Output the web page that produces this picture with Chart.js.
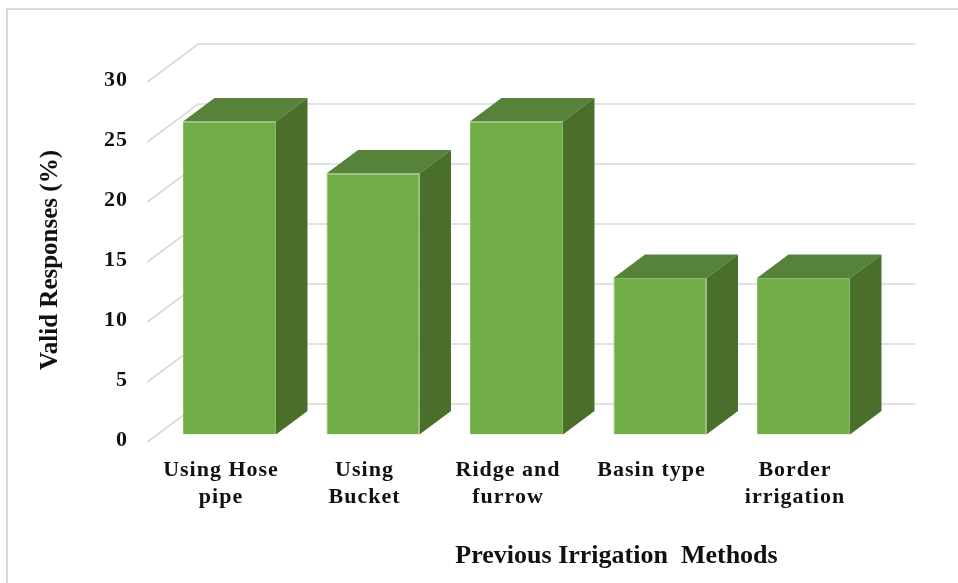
<!DOCTYPE html>
<html>
<head>
<meta charset="utf-8">
<script src="https://cdn.jsdelivr.net/npm/chart.js@4.4.1/dist/chart.umd.min.js"></script>
<style>
  html, body { margin: 0; padding: 0; background: #ffffff; }
  #wrap { width: 958px; height: 583px; position: relative; }
</style>
</head>
<body>
<div id="wrap"><canvas id="c" width="958" height="583"></canvas></div>
<script>
// ---- data ----
const categories = [
  ['Using Hose', 'pipe'],
  ['Using', 'Bucket'],
  ['Ridge and', 'furrow'],
  ['Basin type'],
  ['Border', 'irrigation']
];
const responses = [26.09, 21.74, 26.09, 13.04, 13.04];
const yMin = 0;
const yMax = 30;
const yStep = 5;
const xTitle = 'Previous Irrigation  Methods';
const yTitle = 'Valid Responses (%)';

// ---- look ----
const FONT = "'Liberation Serif', 'Times New Roman', serif";
const FRONT = '#70AD47';
const TOP = '#56823A';
const SIDE = '#4A6F2B';
const GRID = '#D9D9D9';

// 3D offsets relative to the bar-front plane (chart area)
const FRONT_DX = -10.5, FRONT_DY = 7.5;   // front (label) plane
const BACK_DX = 40.5, BACK_DY = -30.5;    // back wall
const BAR_DX = 31.5, BAR_DY = -23.5;      // bar depth

const depth3d = {
  id: 'depth3d',
  beforeDraw(chart) {
    const ctx = chart.ctx;
    ctx.save();
    ctx.strokeStyle = GRID;
    ctx.lineWidth = 2;
    ctx.strokeRect(7, 9, 1000, 1000);
    ctx.restore();
    if ('letterSpacing' in ctx) ctx.letterSpacing = '1px';
  },
  beforeDatasetsDraw(chart) {
    const { ctx, chartArea, scales } = chart;
    const ys = scales.y;
    ctx.save();
    ctx.strokeStyle = GRID;
    ctx.lineWidth = 1.6;
    for (let v = yMin; v <= yMax; v += yStep) {
      const py = ys.getPixelForValue(v);
      ctx.beginPath();
      ctx.moveTo(chartArea.left + FRONT_DX, py + FRONT_DY);
      ctx.lineTo(chartArea.left + BACK_DX, py + BACK_DY);
      ctx.lineTo(chartArea.right + BACK_DX, py + BACK_DY);
      ctx.stroke();
    }
    const meta = chart.getDatasetMeta(0);
    meta.data.forEach((bar) => {
      const p = bar.getProps(['x', 'y', 'base', 'width'], true);
      const l = p.x - p.width / 2, r = p.x + p.width / 2;
      const t = p.y, b = p.base;
      // top face
      ctx.fillStyle = TOP;
      ctx.beginPath();
      ctx.moveTo(l, t);
      ctx.lineTo(l + BAR_DX, t + BAR_DY);
      ctx.lineTo(r + BAR_DX, t + BAR_DY);
      ctx.lineTo(r, t);
      ctx.closePath();
      ctx.fill();
      // side face
      ctx.fillStyle = SIDE;
      ctx.beginPath();
      ctx.moveTo(r, t);
      ctx.lineTo(r + BAR_DX, t + BAR_DY);
      ctx.lineTo(r + BAR_DX, b + BAR_DY);
      ctx.lineTo(r, b);
      ctx.closePath();
      ctx.fill();
    });
    ctx.restore();
  },
  afterDraw(chart) {
    const ctx = chart.ctx;
    if ('letterSpacing' in ctx) ctx.letterSpacing = '0px';
    ctx.save();
    ctx.fillStyle = '#111111';
    ctx.font = 'bold 26px ' + FONT;
    ctx.textAlign = 'center';
    ctx.textBaseline = 'alphabetic';
    ctx.fillText(xTitle, 616.5, 563);
    ctx.translate(51, 260);
    ctx.rotate(-Math.PI / 2);
    ctx.font = 'bold 25px ' + FONT;
    ctx.textBaseline = 'middle';
    ctx.fillText(yTitle, 0, 0);
    ctx.restore();
  }
};

new Chart(document.getElementById('c'), {
  type: 'bar',
  data: {
    labels: categories,
    datasets: [{
      data: responses,
      backgroundColor: FRONT,
      borderColor: '#86BE62',
      borderWidth: 1,
      categoryPercentage: 1.0,
      barPercentage: 0.648
    }]
  },
  options: {
    responsive: false,
    devicePixelRatio: 1,
    animation: false,
    layout: { padding: { left: 0, top: 74.5, right: 82.75, bottom: 0 } },
    plugins: { legend: { display: false }, tooltip: { enabled: false }, title: { display: false } },
    scales: {
      x: {
        grid: { display: false, drawTicks: false },
        border: { display: false },
        ticks: {
          color: '#111111',
          font: { family: FONT, size: 22, weight: 'bold', lineHeight: 1.23 },
          padding: 22.5,
          labelOffset: -8.5,
          maxRotation: 0,
          minRotation: 0,
          autoSkip: false
        },
        afterFit(scale) { scale.height = 148.5; }
      },
      y: {
        min: yMin,
        max: yMax,
        grid: { display: false, drawTicks: false },
        border: { display: false },
        ticks: {
          stepSize: yStep,
          color: '#111111',
          font: { family: FONT, size: 22, weight: 'bold' },
          padding: 29.75,
          labelOffset: 6
        },
        afterFit(scale) { scale.width = 157.75; }
      }
    }
  },
  plugins: [depth3d]
});
</script>
</body>
</html>
